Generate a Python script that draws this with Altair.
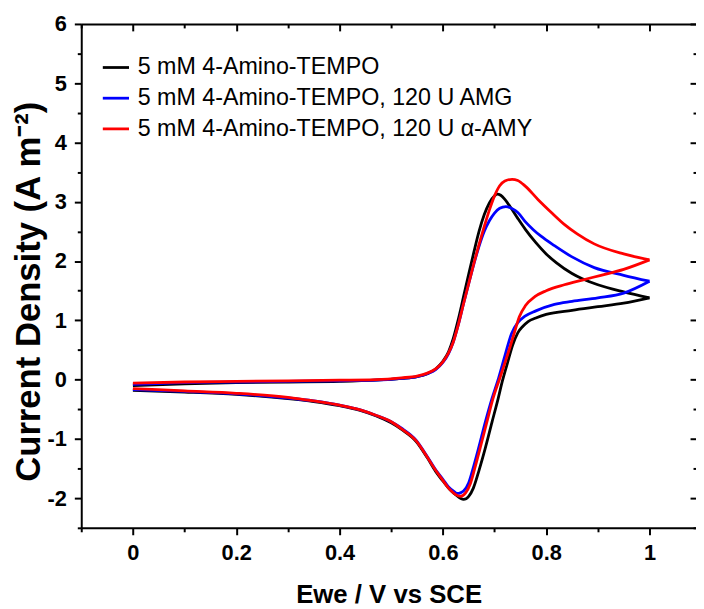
import altair as alt
import pandas as pd

FONT = "Liberation Sans"

series_names = [
    "5 mM 4-Amino-TEMPO",
    "5 mM 4-Amino-TEMPO, 120 U AMG",
    "5 mM 4-Amino-TEMPO, 120 U α-AMY",
]
series_colors = ["#000000", "#0000ff", "#ff0000"]

# Black: forward (anodic) scan 0 -> 1 V
black_fwd_x = [0.0, 0.1, 0.2, 0.3, 0.4, 0.47, 0.52, 0.55, 0.57, 0.586, 0.60, 0.611, 0.62, 0.63, 0.64,
               0.65, 0.66, 0.67, 0.68, 0.69, 0.70, 0.705, 0.712, 0.72, 0.73, 0.745, 0.76, 0.78, 0.80,
               0.82, 0.85, 0.87, 0.90, 0.95, 1.0]
black_fwd_y = [-0.10, -0.07, -0.05, -0.04, -0.03, -0.01, 0.02, 0.05, 0.10, 0.18, 0.31, 0.47, 0.69, 1.02,
               1.40, 1.78, 2.15, 2.50, 2.78, 2.98, 3.10, 3.13, 3.11, 3.04, 2.92, 2.72, 2.53, 2.31, 2.12,
               1.97, 1.79, 1.70, 1.60, 1.48, 1.38]
# Black: reverse (cathodic) scan 1 -> 0 V
black_rev_x = [1.0, 0.95, 0.90, 0.85, 0.80, 0.78, 0.765, 0.755, 0.745, 0.735, 0.725, 0.715, 0.707, 0.695,
               0.682, 0.67, 0.659, 0.65, 0.645, 0.64, 0.634, 0.626, 0.618, 0.611, 0.60, 0.586, 0.57,
               0.548, 0.52, 0.50, 0.47, 0.44, 0.40, 0.35, 0.30, 0.20, 0.10, 0.0]
black_rev_y = [1.38, 1.29, 1.23, 1.17, 1.10, 1.04, 0.98, 0.90, 0.79, 0.58, 0.28, -0.03, -0.32, -0.72, -1.16,
               -1.53, -1.83, -1.97, -2.01, -2.02, -2.00, -1.95, -1.89, -1.83, -1.71, -1.55, -1.32,
               -1.04, -0.84, -0.73, -0.61, -0.52, -0.44, -0.37, -0.32, -0.25, -0.21, -0.18]

# Blue
blue_fwd_x = [0.0, 0.1, 0.2, 0.3, 0.4, 0.47, 0.52, 0.55, 0.57, 0.586, 0.60, 0.611, 0.62, 0.63, 0.64,
              0.65, 0.66, 0.67, 0.68, 0.69, 0.70, 0.71, 0.722, 0.735, 0.745, 0.759, 0.775, 0.79, 0.816,
              0.85, 0.893, 0.95, 1.0]
blue_fwd_y = [-0.08, -0.05, -0.04, -0.03, -0.02, -0.01, 0.02, 0.05, 0.10, 0.17, 0.29, 0.44, 0.63, 0.93,
              1.28, 1.62, 1.95, 2.25, 2.50, 2.68, 2.81, 2.89, 2.92, 2.88, 2.82, 2.67, 2.53, 2.42, 2.26,
              2.07, 1.89, 1.76, 1.66]
blue_rev_x = [1.0, 0.95, 0.90, 0.85, 0.816, 0.78, 0.759, 0.745, 0.733, 0.72, 0.708, 0.695, 0.682, 0.669,
              0.66, 0.65, 0.64, 0.634, 0.628, 0.622, 0.611, 0.60, 0.586, 0.57, 0.548, 0.52, 0.50, 0.47,
              0.44, 0.40, 0.35, 0.30, 0.20, 0.10, 0.0]
blue_rev_y = [1.66, 1.46, 1.38, 1.32, 1.27, 1.16, 1.07, 0.96, 0.78, 0.40, 0.03, -0.32, -0.72, -1.16, -1.45,
              -1.74, -1.88, -1.91, -1.92, -1.89, -1.81, -1.68, -1.52, -1.30, -1.02, -0.82, -0.71,
              -0.60, -0.51, -0.43, -0.36, -0.31, -0.24, -0.20, -0.17]

# Red
red_fwd_x = [0.0, 0.1, 0.2, 0.3, 0.4, 0.47, 0.52, 0.55, 0.57, 0.586, 0.60, 0.611, 0.62, 0.63, 0.64,
             0.65, 0.66, 0.67, 0.68, 0.69, 0.70, 0.71, 0.72, 0.734, 0.745, 0.76, 0.784, 0.81, 0.835,
             0.86, 0.893, 0.95, 1.0]
red_fwd_y = [-0.06, -0.04, -0.03, -0.02, -0.01, 0.0, 0.03, 0.06, 0.11, 0.18, 0.30, 0.45, 0.63, 0.93,
             1.28, 1.62, 1.96, 2.28, 2.58, 2.86, 3.10, 3.27, 3.35, 3.38, 3.36, 3.26, 3.04, 2.82, 2.62,
             2.46, 2.29, 2.12, 2.02]
red_rev_x = [1.0, 0.95, 0.906, 0.87, 0.835, 0.80, 0.778, 0.76, 0.748, 0.739, 0.73, 0.72, 0.71, 0.697,
             0.685, 0.672, 0.662, 0.653, 0.644, 0.634, 0.625, 0.618, 0.611, 0.60, 0.586, 0.57, 0.548,
             0.52, 0.50, 0.47, 0.44, 0.40, 0.35, 0.30, 0.20, 0.10, 0.0]
red_rev_y = [2.02, 1.86, 1.76, 1.68, 1.60, 1.50, 1.40, 1.25, 1.06, 0.81, 0.55, 0.28, 0.02, -0.32, -0.72,
             -1.16, -1.49, -1.76, -1.91, -1.97, -1.94, -1.89, -1.83, -1.70, -1.53, -1.31, -1.03,
             -0.83, -0.71, -0.60, -0.51, -0.43, -0.36, -0.30, -0.23, -0.19, -0.15]

x_major = [0, 0.2, 0.4, 0.6, 0.8, 1]
x_minor = [-0.1, 0.1, 0.3, 0.5, 0.7, 0.9]
y_major = [-2, -1, 0, 1, 2, 3, 4, 5, 6]
y_minor = [-2.5, -1.5, -0.5, 0.5, 1.5, 2.5, 3.5, 4.5, 5.5]

rows = []
for name, fx, fy, rx, ry in [
    (series_names[0], black_fwd_x, black_fwd_y, black_rev_x, black_rev_y),
    (series_names[1], blue_fwd_x, blue_fwd_y, blue_rev_x, blue_rev_y),
    (series_names[2], red_fwd_x, red_fwd_y, red_rev_x, red_rev_y),
]:
    for a, b in zip(fx, fy):
        rows.append({"series": name, "branch": name + " fwd", "E": a, "J": b})
    for a, b in zip(rx, ry):
        rows.append({"series": name, "branch": name + " rev", "E": a, "J": b})
df = pd.DataFrame(rows)

x_scale = alt.Scale(domain=[-0.1, 1.09], nice=False, zero=False)
y_scale = alt.Scale(domain=[-2.5, 6], nice=False, zero=False)

base_ax = dict(grid=False, domainColor="black", tickColor="black", tickWidth=2,
               domainWidth=2, labelFont=FONT, titleFont=FONT)


def ax(**kw):
    d = dict(base_ax)
    d.update(kw)
    return alt.Axis(**d)


lines = alt.Chart(df).mark_line(strokeWidth=2.8, interpolate="monotone").encode(
    x=alt.X("E:Q", scale=x_scale, title="Ewe / V vs SCE",
            axis=ax(orient="bottom", values=x_major, tickSize=7, labelFontSize=22,
                    labelFontWeight="bold", labelColor="black", labelPadding=8,
                    labelExpr="'' + datum.value", titleFontSize=26, titleFontWeight="bold",
                    titleColor="black", titlePadding=18)),
    y=alt.Y("J:Q", scale=y_scale, title="Current Density (A m⁻²)",
            axis=ax(orient="left", values=y_major, tickSize=7, labelFontSize=22,
                    labelFontWeight="bold", labelColor="black", labelPadding=8,
                    labelExpr="'' + datum.value", titleFontSize=35, titleFontWeight="bold",
                    titleColor="black", titleAngle=270, titleAlign="center",
                    titleBaseline="top", titleX=-70, titleY=270)),
    color=alt.Color("series:N",
                    scale=alt.Scale(domain=series_names, range=series_colors),
                    legend=alt.Legend(orient="none", legendX=20, legendY=29, title=None,
                                      symbolType="stroke", symbolSize=700,
                                      symbolStrokeWidth=2.8, labelFontSize=23.5,
                                      labelFont=FONT, labelColor="black", rowPadding=4,
                                      labelOffset=7, padding=0, labelLimit=1000)),
    detail="branch:N",
)


def ghost(xaxis, yaxis):
    return alt.Chart(df).mark_line(strokeOpacity=0).encode(
        x=alt.X("E:Q", scale=x_scale, title=None, axis=xaxis),
        y=alt.Y("J:Q", scale=y_scale, title=None, axis=yaxis),
        detail="branch:N",
    )


g1 = ghost(ax(orient="bottom", values=x_minor, tickSize=4, labels=False, domain=False),
           ax(orient="left", values=y_minor, tickSize=4, labels=False, domain=False))
g2 = ghost(ax(orient="top", values=x_major, ticks=False, labels=False, domain=True),
           ax(orient="right", values=y_major, tickSize=6, offset=-6, labels=False, domain=False))
g3 = ghost(ax(orient="top", values=x_major, tickSize=7, offset=-7, labels=False, domain=False),
           ax(orient="right", values=y_minor, tickSize=3, offset=-3, labels=False, domain=False))
g4 = ghost(ax(orient="top", values=x_minor, tickSize=4, offset=-4, labels=False, domain=False),
           None)

chart = alt.layer(lines, g1, g2, g3, g4).resolve_axis(
    x="independent", y="independent"
).properties(
    width=621, height=509,
    padding={"left": 74, "top": 13, "right": 0, "bottom": 90},
    autosize=alt.AutoSizeParams(type="none"),
).configure_view(stroke="transparent")

chart.save("out.html", embed_options={"renderer": "svg", "actions": False})
